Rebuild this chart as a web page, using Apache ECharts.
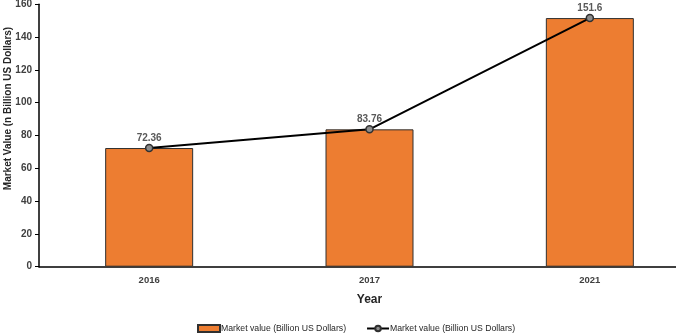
<!DOCTYPE html>
<html>
<head>
<meta charset="utf-8">
<script src="https://cdn.jsdelivr.net/npm/echarts@6/dist/echarts.min.js"></script>
<style>
html,body{margin:0;padding:0;background:#fff;}
#c{width:676px;height:333px;}
</style>
</head>
<body>
<div id="c"></div>
<script>
var categories = ['2016', '2017', '2021'];
var barValues = [72.36, 83.76, 151.6];
var lineValues = [72.36, 83.76, 151.6];
var seriesNames = ['Market value (Billion US Dollars)', 'Market value (Billion US Dollars) '];
var yTitle = 'Market Value (n Billion US Dollars)';
var xTitle = 'Year';

var FONT = '"Liberation Sans Narrow", "Liberation Sans", sans-serif';
var chart = echarts.init(document.getElementById('c'), null, {renderer: 'canvas'});
chart.setOption({
  animation: false,
  textStyle: {fontFamily: FONT},
  grid: {left: 39, top: 4.3, width: 661, height: 262.4, containLabel: false, outerBoundsMode: 'none'},
  legend: {
    left: 192, top: 319, itemGap: 20, itemWidth: 22, itemHeight: 7,
    textStyle: {fontFamily: FONT, fontSize: 8.7, color: '#262626', padding: [0,0,0,-4]},
    data: [
      {name: seriesNames[0], icon: 'rect'},
      {name: seriesNames[1]}
    ]
  },
  xAxis: {
    type: 'category',
    data: categories,
    name: xTitle,
    nameLocation: 'middle',
    nameGap: 27,
    nameTextStyle: {fontFamily: FONT, fontWeight: 'bold', fontSize: 12, color: '#262626'},
    axisLine: {lineStyle: {color: '#000', width: 1.5}},
    axisTick: {show: false},
    axisLabel: {fontFamily: FONT, fontWeight: 'bold', fontSize: 9.5, color: '#404040', margin: 9}
  },
  yAxis: {
    type: 'value',
    min: 0, max: 160, interval: 20,
    name: yTitle,
    nameLocation: 'middle',
    nameGap: 26,
    nameMoveOverlap: false,
    nameRotate: 90,
    nameTextStyle: {fontFamily: FONT, fontWeight: 'bold', fontSize: 10, color: '#262626', padding: [0,0,0,54]},
    axisLine: {show: true, lineStyle: {color: '#000', width: 1.5}},
    axisTick: {show: true, length: 4, lineStyle: {color: '#000'}},
    splitLine: {show: false},
    axisLabel: {fontFamily: FONT, fontWeight: 'bold', fontSize: 10, color: '#404040', margin: 7}
  },
  series: [
    {
      name: seriesNames[0],
      type: 'bar',
      data: barValues,
      barWidth: 88,
      itemStyle: {color: '#ED7D31', borderColor: '#303030', borderWidth: 1}
    },
    {
      name: seriesNames[1],
      type: 'line',
      data: lineValues,
      symbol: 'circle',
      symbolSize: 7,
      lineStyle: {color: '#000', width: 2},
      itemStyle: {color: '#8c8c8c', borderColor: '#303030', borderWidth: 1.5},
      label: {show: true, position: 'top', distance: 1, fontFamily: FONT, fontWeight: 'bold', fontSize: 10, color: '#595959'}
    }
  ]
});
</script>
</body>
</html>
